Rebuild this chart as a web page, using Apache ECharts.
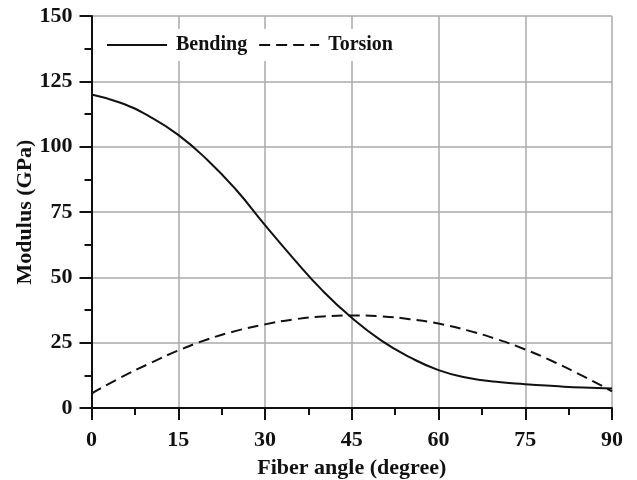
<!DOCTYPE html>
<html>
<head>
<meta charset="utf-8">
<script src="https://cdn.jsdelivr.net/npm/echarts@6/dist/echarts.min.js"></script>
<style>
html,body{margin:0;padding:0;background:#fff;}
#c{width:637px;height:480px;}
</style>
</head>
<body>
<div id="c"></div>
<script>
var angles = [0, 5, 10, 15, 20, 25, 30, 35, 40, 45, 50, 55, 60, 65, 70, 75, 80, 85, 90];
var bending = [120, 116.8, 111.6, 104.5, 95, 83.5, 70, 57, 44.8, 34.5, 26, 19.5, 14.5, 11.6, 10, 9.1, 8.4, 7.8, 7.5];
var torsion = [5.5, 11.6, 17, 22, 26.2, 29.5, 32, 33.9, 35, 35.4, 35.1, 34, 32.3, 29.7, 26.4, 22.4, 17.6, 12.2, 6.4];
var xTicks = [0, 15, 30, 45, 60, 75, 90];
var yTicks = [0, 25, 50, 75, 100, 125, 150];

function pairs(xs, ys) { return xs.map(function (x, i) { return [x, ys[i]]; }); }

var font = '"Liberation Serif", "Times New Roman", serif';
var chart = echarts.init(document.getElementById('c'), null, {renderer: 'canvas'});
chart.setOption({
  animation: false,
  backgroundColor: '#fff',
  grid: {left: 91.5, right: 25, top: 16, bottom: 72, containLabel: false, outerBoundsMode: 'none'},
  legend: {
    left: 98, top: 29,
    backgroundColor: '#fff',
    padding: [6, 8, 6, 8],
    itemWidth: 60, itemHeight: 14, itemGap: 11,
    itemStyle: {opacity: 0},
    textStyle: {fontFamily: font, fontWeight: 'bold', fontSize: 20, color: '#111', padding: [0, 0, 0, 4]},
    data: ['Bending', 'Torsion']
  },
  xAxis: {
    type: 'value', min: xTicks[0], max: xTicks[xTicks.length - 1], interval: 15,
    name: 'Fiber angle (degree)', nameLocation: 'middle', nameGap: 49,
    nameTextStyle: {fontFamily: font, fontWeight: 'bold', fontSize: 22, color: '#111'},
    axisLine: {show: true, onZero: false, lineStyle: {color: '#111', width: 2}},
    axisTick: {show: true, inside: false, length: 12, lineStyle: {color: '#111', width: 2}},
    minorTick: {show: true, splitNumber: 2, length: 7, lineStyle: {color: '#111', width: 2}},
    axisLabel: {margin: 21, fontFamily: font, fontWeight: 'bold', fontSize: 22, color: '#111'},
    splitLine: {show: true, lineStyle: {color: '#aaa', width: 1.5}}
  },
  yAxis: {
    type: 'value', min: yTicks[0], max: yTicks[yTicks.length - 1], interval: 25,
    name: 'Modulus (GPa)', nameLocation: 'middle', nameGap: 55, nameMoveOverlap: false,
    nameTextStyle: {fontFamily: font, fontWeight: 'bold', fontSize: 22, color: '#111'},
    axisLine: {show: true, onZero: false, lineStyle: {color: '#111', width: 2}},
    axisTick: {show: true, inside: false, length: 12, lineStyle: {color: '#111', width: 2}},
    minorTick: {show: true, splitNumber: 2, length: 7, lineStyle: {color: '#111', width: 2}},
    axisLabel: {margin: 19, fontFamily: font, fontWeight: 'bold', fontSize: 22, color: '#111'},
    splitLine: {show: true, lineStyle: {color: '#aaa', width: 1.5}}
  },
  series: [
    {
      name: 'Bending', type: 'line', smooth: true, symbol: 'none',
      data: pairs(angles, bending),
      lineStyle: {color: '#111', width: 2, type: 'solid'},
      itemStyle: {color: '#111'}
    },
    {
      name: 'Torsion', type: 'line', smooth: true, symbol: 'none',
      data: pairs(angles, torsion),
      lineStyle: {color: '#111', width: 2, type: [11, 6]},
      itemStyle: {color: '#111'}
    }
  ]
});
</script>
</body>
</html>
